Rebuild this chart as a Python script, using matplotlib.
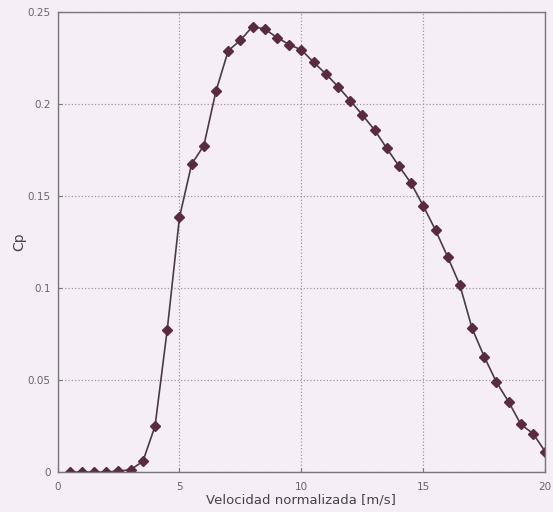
import numpy as np
import matplotlib.pyplot as plt

# wind speed (m/s) and power coefficient
v = np.arange(0.5, 20.01, 0.5)
cp = [0.0, 0.0, 0.0, 0.0, 0.0005, 0.0013, 0.0058, 0.025, 0.0774, 0.1383,
      0.1673, 0.1773, 0.207, 0.2288, 0.2346, 0.242, 0.2406, 0.236, 0.2322, 0.2293,
      0.2226, 0.2163, 0.2094, 0.2018, 0.194, 0.1858, 0.1759, 0.1662, 0.1568, 0.1445,
      0.1314, 0.1168, 0.1015, 0.078, 0.0626, 0.0488, 0.0381, 0.0259, 0.0209, 0.0111]

xticks = [0, 5, 10, 15, 20]
yticks = [0, 0.05, 0.1, 0.15, 0.2, 0.25]
ytick_labels = ['0', '0.05', '0.1', '0.15', '0.2', '0.25']

bg = '#f6eef6'
fig = plt.figure(figsize=(5.53, 5.12), dpi=100, facecolor=bg)
ax = fig.add_axes([0.104, 0.078, 0.882, 0.899], facecolor=bg)

ax.plot(v, cp, '-', color='#4a3a48', lw=1.2)
ax.plot(v, cp, 'D', color='#5a2a40', markersize=4.8, mec='#5a2a40')

ax.set_xlim(0, 20)
ax.set_ylim(0, 0.25)
ax.set_xticks(xticks)
ax.set_yticks(yticks)
ax.set_yticklabels(ytick_labels)
ax.tick_params(direction='in', length=3, labelsize=7.5, colors='#777777',
               labelcolor='#666666', pad=5)
ax.tick_params(axis='x', pad=7)
ax.grid(True, linestyle=':', color='#999999', lw=0.9)
for s in ax.spines.values():
    s.set_color('#777777')
    s.set_linewidth(1.0)

ax.set_xlabel('Velocidad normalizada [m/s]', fontsize=9.5, color='#444444', labelpad=1)
ax.set_ylabel('Cp', fontsize=10, color='#444444', labelpad=1)

plt.savefig('out.png', dpi=100, facecolor=bg)
